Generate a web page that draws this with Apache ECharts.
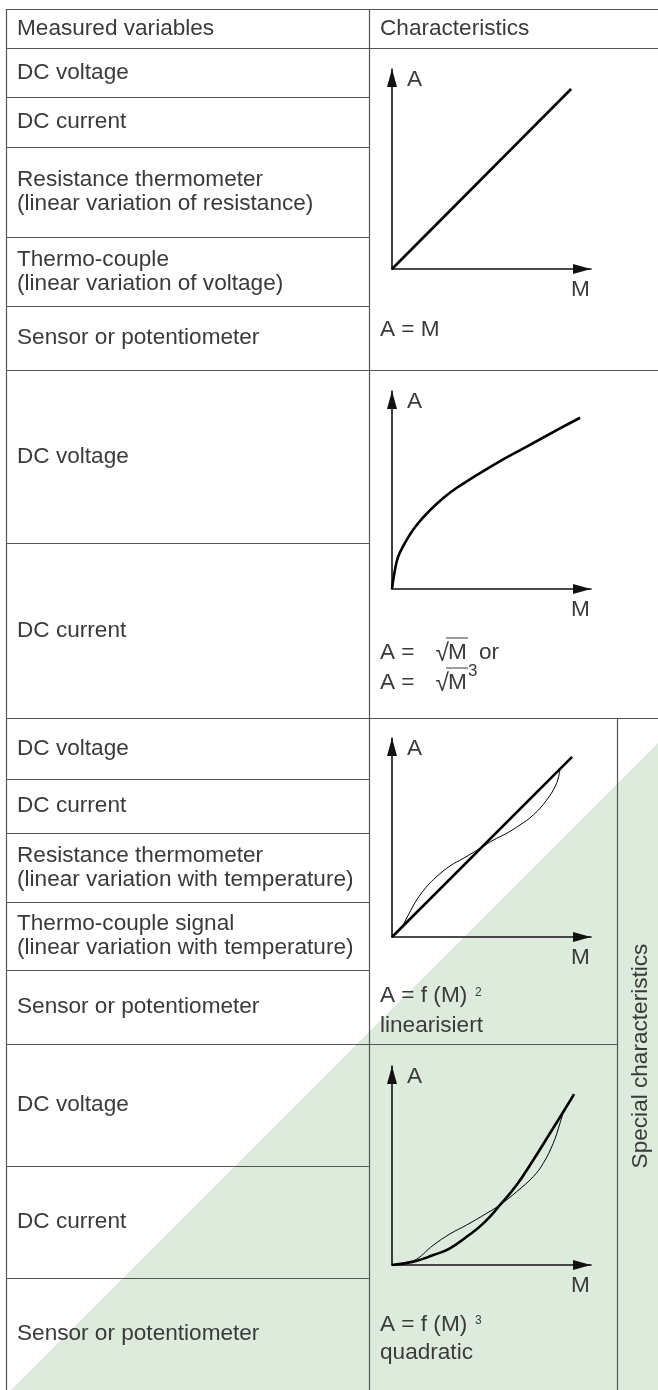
<!DOCTYPE html>
<html>
<head>
<meta charset="utf-8">
<script src="https://cdn.jsdelivr.net/npm/echarts@6/dist/echarts.min.js"></script>
<style>
html, body { margin: 0; padding: 0; background: #fff; }
#chart { width: 658px; height: 1390px; }
</style>
</head>
<body>
<div id="chart"></div>
<script>
// characteristic curves, M on x and A on y, both axes 0..10
const linearM = [0, 9];
const linearA = [0, 9];

const rootM = [0, 0.07, 0.24, 0.4, 0.9, 1.3, 1.74, 2.58, 3.42, 5.09, 6.77, 8.44, 9.45];
const rootA = [0, 0.5, 1.4, 1.85, 2.75, 3.3, 3.8, 4.6, 5.22, 6.26, 7.19, 8.11, 8.65];

const linM = [0, 9.05];
const linA = [0, 9.05];
const sensorM = [0, 0.40, 0.82, 1.24, 1.74, 2.24, 2.91, 3.58, 4.5, 5.09, 5.76, 6.43, 7.1, 7.77, 8.27, 8.44];
const sensorA = [0, 0.35, 1.11, 1.86, 2.53, 3.03, 3.57, 3.95, 4.5, 4.87, 5.21, 5.63, 6.13, 6.88, 7.72, 8.43];

const quadM = [0, 1.07, 2.08, 2.91, 3.75, 4.59, 5.43, 6.26, 7.1, 7.94, 8.61, 9.15];
const quadA = [0, 0.17, 0.5, 0.84, 1.42, 2.09, 3.02, 4.02, 5.28, 6.62, 7.7, 8.59];
const quadSensorM = [0, 1.07, 2.08, 2.91, 3.75, 4.76, 5.43, 6.26, 7.1, 7.6, 8.1, 8.44, 8.61];
const quadSensorA = [0, 0.2, 1.0, 1.56, 2.01, 2.6, 3.02, 3.68, 4.44, 5.11, 6.11, 7.12, 7.7];

// table texts
const headers = ['Measured variables', 'Characteristics'];
const measured = [
    ['DC voltage'], ['DC current'],
    ['Resistance thermometer', '(linear variation of resistance)'],
    ['Thermo-couple', '(linear variation of voltage)'],
    ['Sensor or potentiometer'],
    ['DC voltage'], ['DC current'],
    ['DC voltage'], ['DC current'],
    ['Resistance thermometer', '(linear variation with temperature)'],
    ['Thermo-couple signal', '(linear variation with temperature)'],
    ['Sensor or potentiometer'],
    ['DC voltage'], ['DC current'], ['Sensor or potentiometer']
];
const sideLabel = 'Special characteristics';

// layout
const rowEdges = [48, 97, 147, 237, 306, 370, 543, 718, 779, 833, 902, 970, 1044, 1166, 1278, 1390];
const grids = [
    {left: 392, top: 69, width: 199, height: 200},
    {left: 392, top: 391, width: 199, height: 198},
    {left: 392, top: 738, width: 199, height: 199},
    {left: 392, top: 1066, width: 199, height: 199}
];

const FONT = '"Liberation Sans", Arial, sans-serif';
const FS = 22.6;
const TXT = '#3a3a3a';
const RULE = '#555';

function pairs(xs, ys) {
    return xs.map(function (x, i) { return [x, ys[i]]; });
}

const g = [];

// green triangle behind the lower part
g.push({
    type: 'polygon', z: -1,
    shape: {points: [[658, 743], [658, 1400], [1, 1400]]},
    style: {fill: '#dcebdc'}
});

function hline(y, x1, x2) {
    g.push({type: 'line', z: 5, shape: {x1: x1, y1: y + 0.5, x2: x2, y2: y + 0.5}, style: {stroke: RULE, lineWidth: 1.2}});
}
function vline(x, y1, y2) {
    g.push({type: 'line', z: 5, shape: {x1: x + 0.5, y1: y1, x2: x + 0.5, y2: y2}, style: {stroke: RULE, lineWidth: 1.2}});
}
function text(str, x, y, size, align) {
    g.push({
        type: 'text', z: 6, x: x, y: y,
        style: {text: str, font: size + 'px ' + FONT, fill: TXT, textAlign: align || 'left', textVerticalAlign: 'middle'}
    });
}

// table rules
hline(9, 6, 658);
hline(48, 6, 658);
hline(370, 6, 658);
hline(718, 6, 658);
hline(1044, 6, 617);
[97, 147, 237, 306, 543, 779, 833, 902, 970, 1166, 1278].forEach(function (y) { hline(y, 6, 369); });
vline(6, 9, 1390);
vline(369, 9, 1390);
vline(617, 718, 1390);

// header + row labels
text(headers[0], 17, 29, FS);
text(headers[1], 380, 29, FS);
measured.forEach(function (lines, i) {
    const mid = (rowEdges[i] + rowEdges[i + 1]) / 2;
    lines.forEach(function (s, k) {
        text(s, 17, mid + (k - (lines.length - 1) / 2) * 24, FS);
    });
});

// axis letters
grids.forEach(function (gr) {
    text('A', gr.left + 15, gr.top + 11, FS);
    text('M', gr.left + gr.width - 20, gr.top + gr.height + 21, FS);
});

// formulas
text('A = M', 380, 330, FS);
[653, 683].forEach(function (y) {
    text('A =', 380, y, FS);
    text('\u221A', 449, y + 1, FS + 2, 'right');
    text('M', 448, y, FS);
    g.push({type: 'line', z: 6, shape: {x1: 446, y1: y - 15, x2: 468, y2: y - 15}, style: {stroke: TXT, lineWidth: 1}});
});
text('or', 479, 653, FS);
text('3', 468, 671, 17);
text('A = f (M)', 380, 996, FS);
text('2', 475, 993, 12);
text('linearisiert', 380, 1026, FS);
text('A = f (M)', 380, 1325, FS);
text('3', 475, 1321, 12);
text('quadratic', 380, 1353, FS);

// vertical label
g.push({
    type: 'text', z: 6, x: 641, y: 1056, rotation: Math.PI / 2,
    style: {text: sideLabel, font: FS + 'px ' + FONT, fill: TXT, textAlign: 'center', textVerticalAlign: 'middle'}
});

function axis(i) {
    return {
        gridIndex: i, type: 'value', min: 0, max: 10,
        axisLine: {
            show: true, onZero: false,
            symbol: ['none', 'triangle'], symbolSize: [10, 18], symbolOffset: [0, -9],
            lineStyle: {color: '#111', width: 1.6}
        },
        axisTick: {show: false},
        axisLabel: {show: false},
        splitLine: {show: false}
    };
}

const thick = {color: '#000', width: 2.6};
const thin = {color: '#000', width: 1};

const chart = echarts.init(document.getElementById('chart'));
chart.setOption({
    backgroundColor: '#fff',
    animation: false,
    grid: grids,
    xAxis: grids.map(function (gr, i) { return axis(i); }),
    yAxis: grids.map(function (gr, i) { return axis(i); }),
    series: [
        {type: 'line', xAxisIndex: 0, yAxisIndex: 0, data: pairs(linearM, linearA), symbol: 'none', lineStyle: thick},
        {type: 'line', xAxisIndex: 1, yAxisIndex: 1, data: pairs(rootM, rootA), symbol: 'none', smooth: 0.5, lineStyle: thick},
        {type: 'line', xAxisIndex: 2, yAxisIndex: 2, data: pairs(linM, linA), symbol: 'none', lineStyle: thick},
        {type: 'line', xAxisIndex: 2, yAxisIndex: 2, data: pairs(sensorM, sensorA), symbol: 'none', smooth: 0.4, lineStyle: thin},
        {type: 'line', xAxisIndex: 3, yAxisIndex: 3, data: pairs(quadM, quadA), symbol: 'none', smooth: 0.5, lineStyle: thick},
        {type: 'line', xAxisIndex: 3, yAxisIndex: 3, data: pairs(quadSensorM, quadSensorA), symbol: 'none', smooth: 0.4, lineStyle: thin}
    ],
    graphic: {elements: g}
});
</script>
</body>
</html>
